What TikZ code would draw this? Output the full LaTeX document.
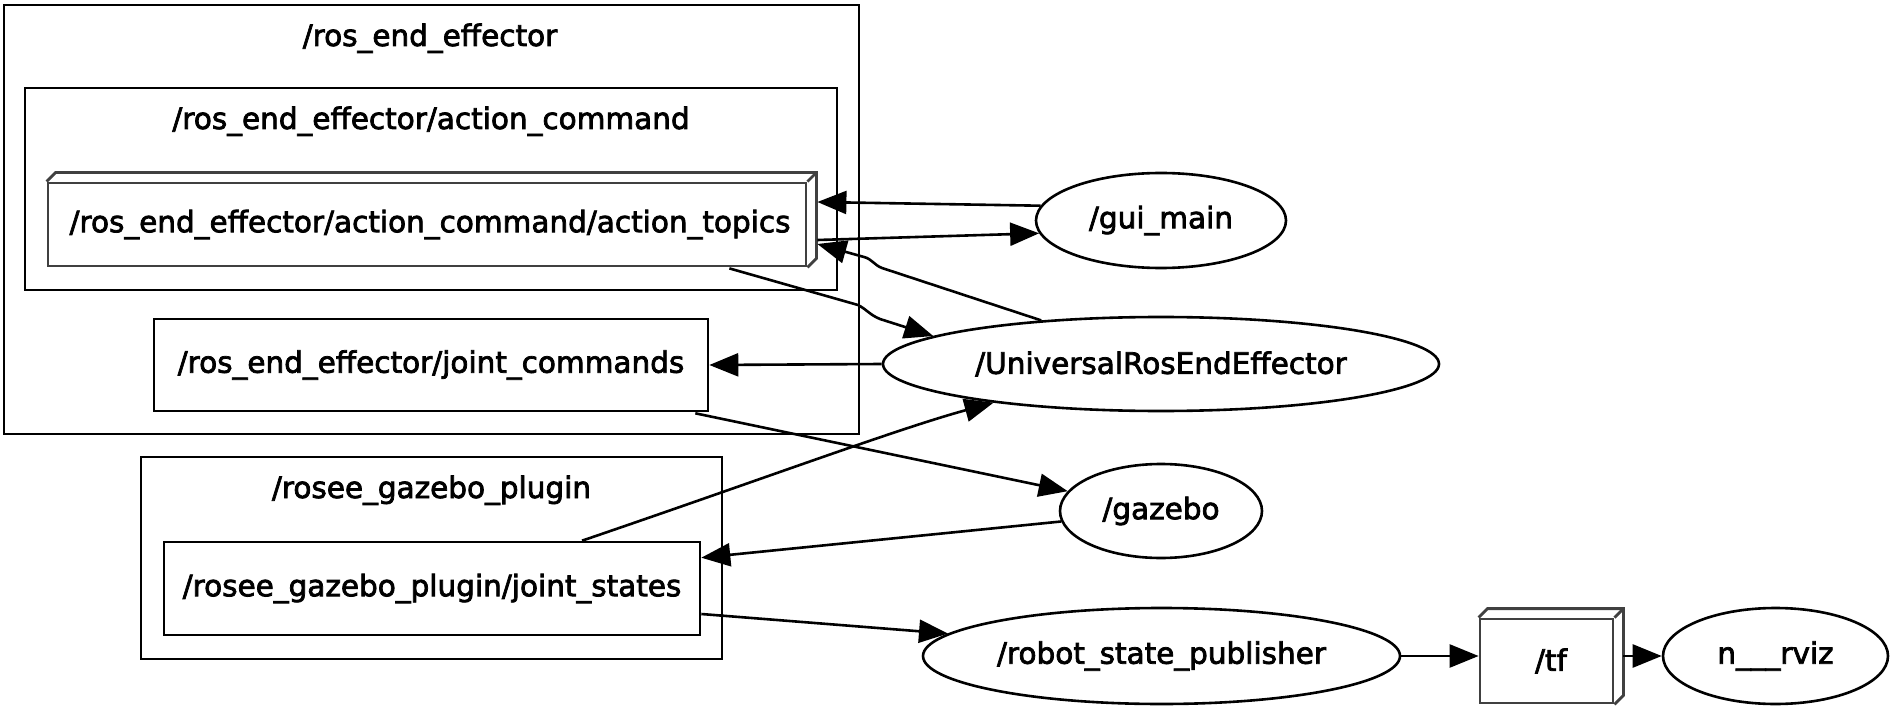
\documentclass[tikz,border=0pt]{standalone}
\usepackage{fontspec}
\setmainfont[FakeBold=2.5]{DejaVu Sans}
\usetikzlibrary{arrows.meta,shapes.geometric,calc}
\definecolor{topicgray}{RGB}{64,64,64}
\begin{document}
\begin{tikzpicture}[x=1pt,y=-1pt,
  every node/.style={font=\fontsize{29.5}{35}\selectfont},
  cluster/.style={draw=black,line width=2.6pt,rectangle,inner sep=0pt},
  clustertitle/.style={anchor=base,inner sep=0pt},
  nodebox/.style={draw=black,line width=2.6pt,rectangle,inner sep=0pt},
  topicbox/.style={draw=topicgray,line width=2.8pt,rectangle,inner sep=0pt},
  topicside/.style={draw=topicgray,line width=2.8pt,line join=miter},
  proc/.style={draw=black,line width=2.6pt,ellipse,inner sep=0pt},
  arr/.style={draw=black,line width=2.6pt,-{Triangle[length=29pt,width=23pt]}}
]
\useasboundingbox (0,0) rectangle (1892,711);
\fill[white] (0,0) rectangle (1892,711);

% clusters
\node[cluster,minimum width=855pt,minimum height=429pt] (c1) at (431.5,219.5) {};
\node[clustertitle] (c1t) at (430,46) {/ros\_end\_effector};
\node[cluster,minimum width=812pt,minimum height=202pt] (c2) at (431,189) {};
\node[clustertitle] (c2t) at (431,129) {/ros\_end\_effector/action\_command};
\node[cluster,minimum width=581pt,minimum height=202pt] (c3) at (431.5,558) {};
\node[clustertitle] (c3t) at (431.5,498) {/rosee\_gazebo\_plugin};

% topic boxes (3d)
\node[topicbox,minimum width=758pt,minimum height=83pt] (at) at (427,224.5) {\hspace{6pt}/ros\_end\_effector/action\_command/action\_topics};
\draw[topicside] (at.north west) -- ++(9,-9) -- ($(at.north east)+(9,-9)$) -- ($(at.south east)+(9,-9)$) -- (at.south east);
\draw[topicside] (at.north east) -- ++(9,-9);

\node[topicbox,minimum width=133pt,minimum height=84pt] (tf) at (1546.5,661) {\hspace{9pt}/tf};
\draw[topicside] (tf.north west) -- ++(9,-9) -- ($(tf.north east)+(9,-9)$) -- ($(tf.south east)+(9,-9)$) -- (tf.south east);
\draw[topicside] (tf.north east) -- ++(9,-9);

% plain boxes
\node[nodebox,minimum width=554pt,minimum height=92pt] (jc) at (431,365) {/ros\_end\_effector/joint\_commands};
\node[nodebox,minimum width=536pt,minimum height=93pt] (js) at (432,588.5) {/rosee\_gazebo\_plugin/joint\_states};

% ellipses
\node[proc,minimum width=250pt,minimum height=95pt] (gm) at (1161,220.5) {/gui\_main};
\node[proc,minimum width=556pt,minimum height=94pt] (uree) at (1161,364) {/UniversalRosEndEffector};
\node[proc,minimum width=202pt,minimum height=94pt] (gz) at (1161,511) {/gazebo};
\node[proc,minimum width=477pt,minimum height=96pt] (rsp) at (1161.5,656) {/robot\_state\_publisher};
\node[proc,minimum width=225pt,minimum height=96pt] (rviz) at (1775.5,656) {n\_\_\_rviz};

% edges
\draw[arr] (gm.173) -- ($(at.east)+(10,-22.5)$);
\draw[arr] ($(at.east)+(10,15.5)$) -- (gm.186.5);
\draw[arr] (uree.160) -- (882,268) .. controls (874,265) and (872,259) .. (864,257) -- ($(at.east)+(10,19.5)$);
\draw[arr] ($(at.south east)+(-78,1)$) -- (858,305) .. controls (866,309) and (870,315) .. (880,319) -- (uree.173);
\draw[arr] (uree.west) -- (jc.east);
\draw[arr] ($(jc.south east)+(-14,1)$) -- (gz.168.3);
\draw[arr] (gz.186) -- ($(js.north east)+(0,17)$);
\draw[arr] ($(js.north)+(150,0)$) .. controls (760,480) and (900,428) .. (uree.193);
\draw[arr] ($(js.east)+(0,25.5)$) -- (rsp.174.7);
\draw[arr] (rsp.east) -- (tf.west |- rsp.east);
\draw[arr] ($(tf.east |- rviz.west)+(9,0)$) -- (rviz.west);
\end{tikzpicture}
\end{document}
